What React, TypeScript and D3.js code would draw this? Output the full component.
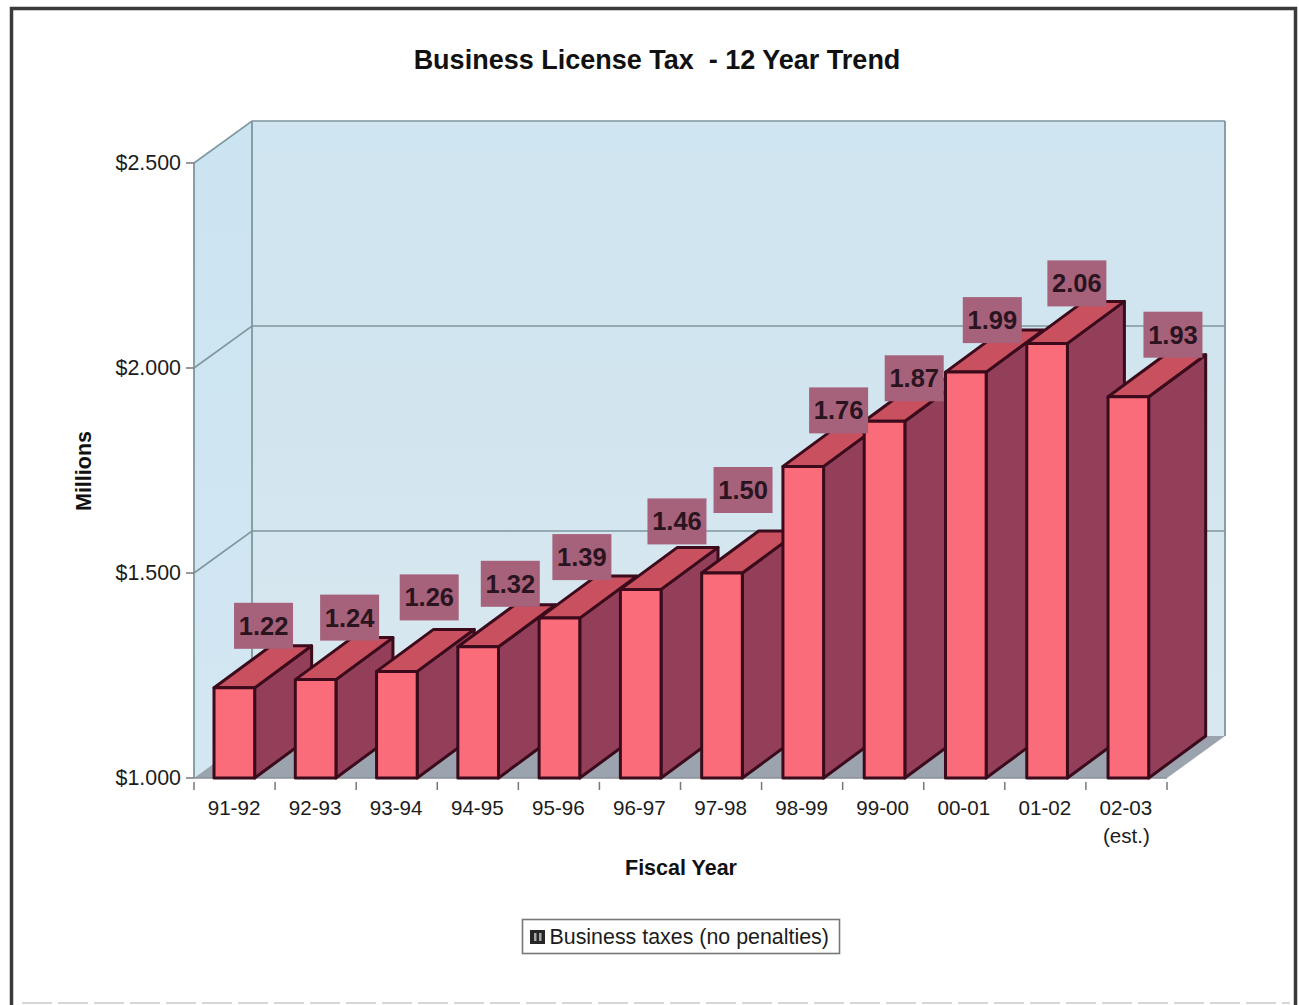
import React from "react";
import * as d3 from "d3";

const fiscalYears = ["91-92", "92-93", "93-94", "94-95", "95-96", "96-97", "97-98", "98-99", "99-00", "00-01", "01-02", "02-03"];
const taxMillions = [1.22, 1.24, 1.26, 1.32, 1.39, 1.46, 1.5, 1.76, 1.87, 1.99, 2.06, 1.93];
const valueTicks = [1.0, 1.5, 2.0, 2.5];
const tickLabels = ["$1.000", "$1.500", "$2.000", "$2.500"];

// Hand-placed data labels: offset of each label box from the axis slot centre and bar top.
const labelOffsets: [number, number][] = [
  [29, -62], [34, -62], [32.5, -74], [32.5, -63], [23, -61], [37, -68],
  [22, -83], [36.5, -56], [31, -43], [28, -52], [31.5, -60], [46.5, -62],
];

const W = 1299;
const H = 1005;
const FRONT_LEFT = 194;
const FRONT_RIGHT = 1167;
const FLOOR_Y = 778;
const TOP_Y = 163;
const DEPTH_X = 58;
const DEPTH_Y = -42;

const FONT = "'Liberation Sans', Arial, sans-serif";
const OUTLINE = "#3b0b1c";
const WALL_LINE = "#7f979f";

// Slots along the category axis
const axisX = d3.scaleBand<string>()
  .domain(fiscalYears)
  .range([FRONT_LEFT, FRONT_RIGHT])
  .paddingInner(0.5)
  .paddingOuter(0.25);
// The bars run very slightly wider than the axis slots
const barX = d3.scaleBand<string>()
  .domain(fiscalYears)
  .range([FRONT_LEFT - 0.3, FRONT_RIGHT + 2])
  .paddingInner(0.5)
  .paddingOuter(0.25);
const y = d3.scaleLinear().domain([1, 2.5]).range([FLOOR_Y, TOP_Y]);

const poly = d3.line();
const path = (pts: [number, number][]) => poly(pts) + "Z";

export default function App() {
  const bw = barX.bandwidth();
  const abw = axisX.bandwidth();
  const step = axisX.step();
  const tickXs = d3.range(fiscalYears.length + 1).map((i) => FRONT_LEFT + i * step);
  const backTop = TOP_Y + DEPTH_Y;
  const backBottom = FLOOR_Y + DEPTH_Y;
  const backLeft = FRONT_LEFT + DEPTH_X;
  const backRight = FRONT_RIGHT + DEPTH_X;

  return (
    <svg
      width={W}
      height={H}
      viewBox={`0 0 ${W} ${H}`}
      style={{ position: "absolute", left: 0, top: 0, display: "block", background: "#fff" }}
      fontFamily={FONT}
    >
      <defs>
        <linearGradient id="backWall" x1="0" y1="0" x2="0" y2="1">
          <stop offset="0" stopColor="#cfe5f1" />
          <stop offset="0.5" stopColor="#d2e5ef" />
          <stop offset="1" stopColor="#d9e8f0" />
        </linearGradient>
        <linearGradient id="sideWall" x1="0" y1="0" x2="0" y2="1">
          <stop offset="0" stopColor="#cbe4f2" />
          <stop offset="1" stopColor="#d3e7f2" />
        </linearGradient>
      </defs>

      {/* Page frame */}
      <path d={`M11.5 ${H}V8.5H1295.5V${H}`} fill="none" stroke="#3a3a3a" strokeWidth={3.5} />
      <line x1={22} x2={1290} y1={1003} y2={1003} stroke="#c9c9c9" strokeWidth={1.5} strokeDasharray="30 6" />

      {/* Plot walls and floor */}
      <path
        d={path([[backLeft, backTop], [backRight, backTop], [backRight, backBottom], [backLeft, backBottom]])}
        fill="url(#backWall)"
      />
      <path
        d={path([[FRONT_LEFT, TOP_Y], [backLeft, backTop], [backLeft, backBottom], [FRONT_LEFT, FLOOR_Y]])}
        fill="url(#sideWall)"
      />
      <path
        d={path([[FRONT_LEFT, FLOOR_Y], [backLeft, backBottom], [backRight, backBottom], [FRONT_RIGHT, FLOOR_Y]])}
        fill="#9ba3ae"
      />

      {/* Gridlines wrap from the side wall onto the back wall */}
      {valueTicks.slice(1).map((v) => (
        <path
          key={v}
          d={`M${FRONT_LEFT} ${y(v)}L${backLeft} ${y(v) + DEPTH_Y}H${backRight}`}
          fill="none"
          stroke={WALL_LINE}
          strokeWidth={1.6}
        />
      ))}
      <path
        d={`M${FRONT_LEFT} ${FLOOR_Y}V${TOP_Y}M${backLeft} ${backTop}V${backBottom}M${backRight} ${backTop}V${backBottom}`}
        fill="none"
        stroke={WALL_LINE}
        strokeWidth={1.8}
      />
      <line x1={FRONT_LEFT} x2={FRONT_RIGHT} y1={FLOOR_Y} y2={FLOOR_Y} stroke="#8a8f98" strokeWidth={1.5} />

      {/* Axis ticks and labels */}
      {valueTicks.map((v, i) => (
        <g key={v}>
          <line x1={186} x2={FRONT_LEFT} y1={y(v)} y2={y(v)} stroke="#777" strokeWidth={1.5} />
          <text x={181} y={y(v) + 7} textAnchor="end" fontSize={21.4} fill="#1c1c1c">
            {tickLabels[i]}
          </text>
        </g>
      ))}
      {tickXs.map((tx) => (
        <line key={tx} x1={tx} x2={tx} y1={FLOOR_Y + 4} y2={790} stroke="#777" strokeWidth={1.5} />
      ))}
      {fiscalYears.map((fy) => (
        <text key={fy} x={axisX(fy)! + abw / 2 - 0.5} y={815} textAnchor="middle" fontSize={20.6} fill="#1c1c1c">
          {fy}
        </text>
      ))}
      <text x={axisX("02-03")! + abw / 2} y={843} textAnchor="middle" fontSize={20.6} fill="#1c1c1c">
        (est.)
      </text>

      {/* Bars, painted left to right so each front overlaps its neighbour's side */}
      {fiscalYears.map((fy, i) => {
        const x0 = barX(fy)!;
        const x1 = x0 + bw;
        const yT = y(taxMillions[i]);
        return (
          <g key={fy} stroke={OUTLINE} strokeWidth={3} strokeLinejoin="round">
            <path
              d={path([[x1, yT], [x1 + DEPTH_X - 1, yT + DEPTH_Y], [x1 + DEPTH_X - 1, FLOOR_Y + DEPTH_Y], [x1, FLOOR_Y]])}
              fill="#933f5a"
            />
            <path
              d={path([[x0, yT], [x0 + DEPTH_X - 1, yT + DEPTH_Y], [x1 + DEPTH_X - 1, yT + DEPTH_Y], [x1, yT]])}
              fill="#c9505f"
            />
            <rect x={x0} y={yT} width={bw} height={FLOOR_Y - yT} fill="#fb6c7b" />
          </g>
        );
      })}

      {/* Value labels */}
      {fiscalYears.map((fy, i) => {
        const cx = axisX(fy)! + abw / 2 + labelOffsets[i][0];
        const cy = y(taxMillions[i]) + labelOffsets[i][1];
        return (
          <g key={fy}>
            <rect x={cx - 29.5} y={cy - 23} width={59} height={46} fill="#a6617b" />
            <text x={cx} y={cy + 9} textAnchor="middle" fontSize={25.5} fontWeight={700} fill="#2a1420">
              {taxMillions[i].toFixed(2)}
            </text>
          </g>
        );
      })}

      {/* Titles */}
      <text x={657} y={69} textAnchor="middle" fontSize={27} fontWeight={700} fill="#111" xmlSpace="preserve">
        {"Business License Tax  - 12 Year Trend"}
      </text>
      <text x={681} y={875} textAnchor="middle" fontSize={21.5} fontWeight={700} fill="#111">
        Fiscal Year
      </text>
      <text
        transform="translate(91,471) rotate(-90)"
        textAnchor="middle"
        fontSize={21.5}
        fontWeight={700}
        fill="#111"
      >
        Millions
      </text>

      {/* Legend */}
      <rect x={522.5} y={919.5} width={317} height={34} fill="#fff" stroke="#777" strokeWidth={1.6} />
      <rect x={530} y={930} width={15} height={14} fill="#262626" />
      <rect x={534} y={933} width={2.5} height={8} fill="#a8a8a8" />
      <rect x={539} y={933} width={2.5} height={8} fill="#a8a8a8" />
      <text x={549.5} y={944} fontSize={21.4} fill="#1c1c1c">
        Business taxes (no penalties)
      </text>
    </svg>
  );
}
